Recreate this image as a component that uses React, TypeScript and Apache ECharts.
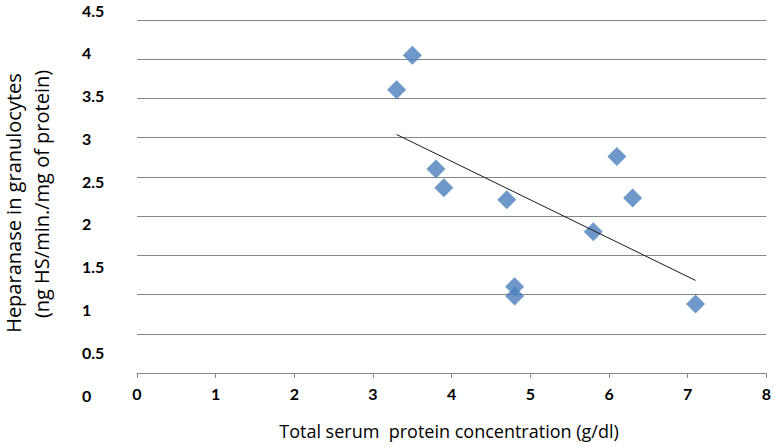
import React, { useEffect, useRef } from "react";
import * as echarts from "echarts";

const proteinX = [3.5, 3.3, 3.8, 3.9, 4.7, 6.1, 6.3, 5.8, 4.8, 4.8, 7.1];
const heparanaseY = [4.05, 3.61, 2.6, 2.36, 2.21, 2.76, 2.23, 1.8, 1.1, 0.98, 0.88];
const trendX = [3.3, 7.1];
const trendY = [3.04, 1.18];
const yTickLabels = ["0", "0.5", "1", "1.5", "2", "2.5", "3", "3.5", "4", "4.5"];
const xTickLabels = ["0", "1", "2", "3", "4", "5", "6", "7", "8"];
const xTitle = "Total serum  protein concentration (g/dl)";
const yTitle1 = "Heparanase in granulocytes";
const yTitle2 = "(ng HS/min./mg of protein)";

export default function App() {
  const ref = useRef<HTMLDivElement>(null);
  useEffect(() => {
    if (!ref.current) return;
    const chart = echarts.init(ref.current, undefined, { renderer: "svg" });
    const labelFont = {
      fontFamily: "Lato",
      fontWeight: "bold" as const,
      fontSize: 16,
      color: "#000",
    };
    chart.setOption({
      animation: false,
      backgroundColor: "#fff",
      grid: [
        { left: 137, right: 7, top: 20, bottom: 74 },
        { left: 137, right: 7, top: 10, bottom: 52 },
      ],
      xAxis: [
        {
          type: "value",
          gridIndex: 0,
          min: 0,
          max: 8,
          interval: 1,
          axisLine: { show: true, lineStyle: { color: "#868686", width: 1 } },
          axisTick: { show: true, length: 5, lineStyle: { color: "#868686" } },
          splitLine: { show: false },
          axisLabel: {
            ...labelFont,
            margin: 12,
            formatter: (v: number) => xTickLabels[Math.round(v)] ?? "",
          },
        },
        { type: "value", gridIndex: 1, min: 0, max: 8, show: false },
      ],
      yAxis: [
        {
          type: "value",
          gridIndex: 0,
          min: 0,
          max: 4.5,
          interval: 0.5,
          axisLine: { show: false },
          axisTick: { show: false },
          axisLabel: { show: false },
          splitLine: { show: true, lineStyle: { color: "#868686", width: 1 } },
        },
        {
          type: "value",
          gridIndex: 1,
          min: 0,
          max: 4.5,
          interval: 0.5,
          axisLine: { show: false },
          axisTick: { show: false },
          splitLine: { show: false },
          axisLabel: {
            ...labelFont,
            align: "left",
            margin: 55,
            formatter: (v: number) => yTickLabels[Math.round(v * 2)] ?? "",
          },
        },
      ],
      series: [
        {
          type: "scatter",
          xAxisIndex: 0,
          yAxisIndex: 0,
          symbol: "diamond",
          symbolSize: 19,
          itemStyle: { color: "#4A7EBB" },
          data: proteinX.map((x, i) => [x, heparanaseY[i]]),
        },
        {
          type: "line",
          xAxisIndex: 0,
          yAxisIndex: 0,
          symbol: "none",
          lineStyle: { color: "#1a1a1a", width: 1 },
          data: trendX.map((x, i) => [x, trendY[i]]),
        },
      ],
      graphic: [
        {
          type: "text",
          x: 449,
          y: 431,
          style: {
            text: xTitle,
            fontFamily: "Open Sans",
            fontSize: 18,
            fill: "#000",
            align: "center",
            verticalAlign: "middle",
          },
        },
        {
          type: "text",
          x: 13,
          y: 203,
          rotation: Math.PI / 2,
          style: {
            text: yTitle1,
            fontFamily: "Open Sans",
            fontSize: 20,
            fill: "#000",
            align: "center",
            verticalAlign: "middle",
          },
        },
        {
          type: "text",
          x: 41,
          y: 194,
          rotation: Math.PI / 2,
          style: {
            text: yTitle2,
            fontFamily: "Open Sans",
            fontSize: 20,
            fill: "#000",
            align: "center",
            verticalAlign: "middle",
          },
        },
      ],
    });
    return () => chart.dispose();
  }, []);
  return (
    <div
      ref={ref}
      style={{ position: "fixed", left: 0, top: 0, width: 774, height: 447 }}
    />
  );
}
